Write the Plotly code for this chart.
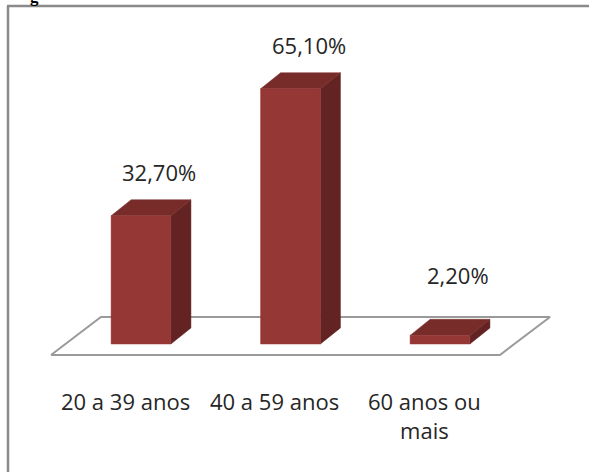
import plotly.graph_objects as go

# ---- data ----
categories = ["20 a 39 anos", "40 a 59 anos", "60 anos ou<br>mais"]
values = [32.7, 65.1, 2.2]
value_labels = ["32,70%", "65,10%", "2,20%"]

# ---- 3D geometry (axis units) ----
W = 0.40          # bar front width (category units)
DX = 0.134        # depth offset x
DY = 4.1          # depth offset y (% units)
FLOOR_FRONT = -2.8
FLOOR_BACK = 6.9
FLOOR_FL, FLOOR_FR = -0.602, 2.401
FLOOR_BL, FLOOR_BR = -0.268, 2.736

FRONT_C = "#953735"
TOP_C = "#772c2a"
SIDE_C = "#622322"
TEXT_C = "#262626"
FONT = "Open Sans"

fig = go.Figure()

# floor
fig.add_trace(go.Scatter(
    x=[FLOOR_FL, FLOOR_FR, FLOOR_BR, FLOOR_BL, FLOOR_FL],
    y=[FLOOR_FRONT, FLOOR_FRONT, FLOOR_BACK, FLOOR_BACK, FLOOR_FRONT],
    mode="lines", fill="toself", fillcolor="white",
    line=dict(color="#9a9a9a", width=2), hoverinfo="skip", showlegend=False))

def poly(xs, ys, color):
    fig.add_trace(go.Scatter(x=xs + [xs[0]], y=ys + [ys[0]], mode="lines",
                             fill="toself", fillcolor=color,
                             line=dict(color=color, width=0.5),
                             hoverinfo="skip", showlegend=False))

for i, v in enumerate(values):
    l, r = i - W / 2, i + W / 2
    # side face
    poly([r, r + DX, r + DX, r], [0, DY, v + DY, v], SIDE_C)
    # top face
    poly([l, r, r + DX, l + DX], [v, v, v + DY, v + DY], TOP_C)
    # front face
    poly([l, r, r, l], [0, 0, v, v], FRONT_C)

annotations = []
for i, (v, t) in enumerate(zip(values, value_labels)):
    annotations.append(dict(x=i, y=max(v, 6.5) + 11.2, text=t, showarrow=False,
                            xshift=18, font=dict(family=FONT, size=22, color=TEXT_C)))
for i, c in enumerate(categories):
    annotations.append(dict(x=i, y=FLOOR_FRONT, text=c, showarrow=False,
                            xshift=-16, yshift=-29, yanchor="top",
                            font=dict(family=FONT, size=22, color=TEXT_C)))
# cut-off caption letter at the very top
annotations.append(dict(xref="paper", yref="paper", x=29 / 589, y=1 - 7 / 472,
                        text="<b>g</b>", showarrow=False, yanchor="bottom",
                        borderpad=0,
                        font=dict(family="Liberation Serif", size=17, color="black")))

# frame lines (top and left)
shapes = [
    dict(type="line", xref="paper", yref="paper", x0=7 / 589, x1=1,
         y0=1 - 6 / 472, y1=1 - 6 / 472, line=dict(color="#8a8a8a", width=2.5)),
    dict(type="line", xref="paper", yref="paper", x0=8 / 589, x1=8 / 589,
         y0=0, y1=1 - 6 / 472, line=dict(color="#8a8a8a", width=2.5)),
]

fig.update_layout(
    width=589, height=472, autosize=False,
    margin=dict(l=0, r=0, t=0, b=0),
    paper_bgcolor="white", plot_bgcolor="white",
    xaxis=dict(range=[-141 / 149.5, 448 / 149.5], visible=False, fixedrange=True),
    yaxis=dict(range=[(344 - 472) / 3.92, 344 / 3.92], visible=False, fixedrange=True),
    annotations=annotations, shapes=shapes, showlegend=False,
)

fig.write_html("out.html", config={"displayModeBar": False},
               post_script="document.body.style.margin='0';document.body.style.overflow='hidden';")
